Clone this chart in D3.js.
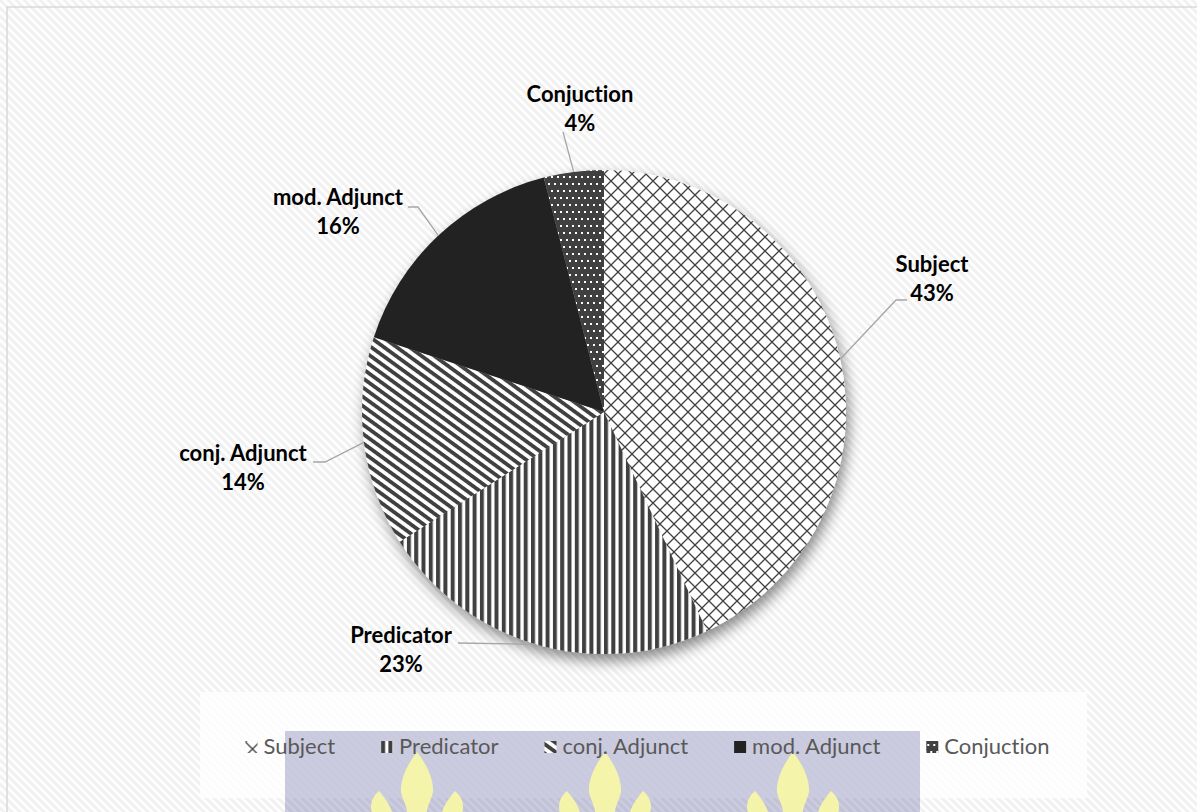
<!DOCTYPE html>
<html>
<head>
<meta charset="utf-8">
<script src="https://cdn.jsdelivr.net/npm/d3@7"></script>
<style>
  html, body { margin: 0; padding: 0; background: #fff; }
  svg { display: block; }
  text { font-variant-ligatures: none; font-feature-settings: "liga" 0; }
</style>
</head>
<body>
<svg id="chart" width="1197" height="812"></svg>
<script>
// ---------- data ----------
const categories = ["Subject", "Predicator", "conj. Adjunct", "mod. Adjunct", "Conjuction"];
const values = [43, 23, 14, 16, 4];
const patternIds = ["pSubject", "pPredicator", "pConjAdj", "pModAdj", "pConjuction"];

// ---------- layout (positions only) ----------
const W = 1197, H = 812;
const cx = 604, cy = 412, R = 242;
// label anchor (text centre x, first baseline y) and leader elbow points (from label toward pie)
const labelLayout = [
  { x: 932, y: 272, leader: [[907, 300], [896, 300]] },
  { x: 401, y: 643, leader: [[458, 643]] },
  { x: 243, y: 461, leader: [[313, 462], [325, 462]] },
  { x: 338, y: 205, leader: [[408, 207], [418, 207]] },
  { x: 580, y: 102, leader: [[563, 132]] }
];

const svg = d3.select("#chart");
const defs = svg.append("defs");

// background hatch
const bg = defs.append("pattern").attr("id", "bgHatch").attr("patternUnits", "userSpaceOnUse")
  .attr("width", 8).attr("height", 8);
bg.append("rect").attr("width", 8).attr("height", 8).attr("fill", "#ffffff");
bg.append("path").attr("d", "M0,0 L8,8 M-4,4 L4,12 M4,-4 L12,4")
  .attr("stroke", "#f1f1f1").attr("stroke-width", 3);

// Subject: diagonal cross grid
const p1 = defs.append("pattern").attr("id", "pSubject").attr("patternUnits", "userSpaceOnUse")
  .attr("width", 14).attr("height", 14);
p1.append("rect").attr("width", 14).attr("height", 14).attr("fill", "#fff");
p1.append("path").attr("d", "M0,0 L14,14 M14,0 L0,14")
  .attr("stroke", "#404040").attr("stroke-width", 1.3).attr("fill", "none");

// Predicator: vertical stripes
const p2 = defs.append("pattern").attr("id", "pPredicator").attr("patternUnits", "userSpaceOnUse")
  .attr("width", 7.3).attr("height", 7);
p2.append("rect").attr("width", 7.3).attr("height", 7).attr("fill", "#fff");
p2.append("rect").attr("width", 4).attr("height", 7).attr("fill", "#404040");

// conj. Adjunct: downward diagonal stripes
const p3 = defs.append("pattern").attr("id", "pConjAdj").attr("patternUnits", "userSpaceOnUse")
  .attr("width", 8).attr("height", 7.5).attr("patternTransform", "rotate(36)");
p3.append("rect").attr("width", 8).attr("height", 7.5).attr("fill", "#fff");
p3.append("rect").attr("width", 8).attr("height", 3.8).attr("fill", "#404040");

// mod. Adjunct: solid
const p4 = defs.append("pattern").attr("id", "pModAdj").attr("patternUnits", "userSpaceOnUse")
  .attr("width", 4).attr("height", 4);
p4.append("rect").attr("width", 4).attr("height", 4).attr("fill", "#222222");

// Conjuction: dark with white dots
const p5 = defs.append("pattern").attr("id", "pConjuction").attr("patternUnits", "userSpaceOnUse")
  .attr("width", 6).attr("height", 14);
p5.append("rect").attr("width", 6).attr("height", 14).attr("fill", "#404040");
p5.append("rect").attr("x", 1).attr("y", 2).attr("width", 2).attr("height", 2).attr("fill", "#fff");
p5.append("rect").attr("x", 4).attr("y", 9).attr("width", 2).attr("height", 2).attr("fill", "#fff");

// shadow
const f = defs.append("filter").attr("id", "shadow")
  .attr("x", "-20%").attr("y", "-20%").attr("width", "140%").attr("height", "140%");
f.append("feDropShadow").attr("dx", 3).attr("dy", 7).attr("stdDeviation", 7)
  .attr("flood-color", "#000").attr("flood-opacity", 0.45);

// ---------- background ----------
svg.append("rect").attr("width", W).attr("height", H).attr("fill", "url(#bgHatch)");
svg.append("rect").attr("x", 7).attr("y", 7).attr("width", W + 20).attr("height", H + 20)
  .attr("fill", "none").attr("stroke", "#d9d9d9").attr("stroke-width", 1.5);

// ---------- pie ----------
const pie = d3.pie().sort(null).value(d => d.value);
const data = categories.map((c, i) => ({ name: c, value: values[i], pid: patternIds[i] }));
const arcs = pie(data);
const arc = d3.arc().innerRadius(0).outerRadius(R);
const edge = d3.arc().innerRadius(R).outerRadius(R);

const g = svg.append("g").attr("transform", `translate(${cx},${cy})`);
g.append("g").attr("filter", "url(#shadow)")
  .selectAll("path").data(arcs).join("path")
  .attr("d", arc)
  .attr("fill", d => `url(#${d.data.pid})`);

// leader lines + data labels
const total = d3.sum(values);
arcs.forEach((a, i) => {
  const lay = labelLayout[i];
  const p = edge.centroid(a);
  const pts = lay.leader.map(q => [q[0], q[1]]).concat([[p[0] + cx, p[1] + cy]]);
  svg.append("path")
    .attr("d", d3.line()(pts))
    .attr("fill", "none").attr("stroke", "#a6a6a6").attr("stroke-width", 1.3);
  const t = svg.append("text")
    .attr("x", lay.x).attr("y", lay.y)
    .attr("text-anchor", "middle")
    .attr("font-family", "Lato, 'Open Sans', sans-serif")
    .attr("font-weight", "bold").attr("font-size", 22).attr("fill", "#000");
  t.append("tspan").attr("x", lay.x).text(a.data.name);
  t.append("tspan").attr("x", lay.x).attr("dy", 29)
    .text(Math.round(a.data.value / total * 100) + "%");
});

// ---------- legend ----------
const lx0 = 200, lx1 = 1087, ly0 = 692, ly1 = 798;
svg.append("rect").attr("x", lx0).attr("y", ly0).attr("width", lx1 - lx0).attr("height", ly1 - ly0)
  .attr("fill", "#ffffff").attr("opacity", 0.75);

// watermark overlay
const wm = svg.append("g");
wm.append("rect").attr("x", 285).attr("y", 731).attr("width", 635).attr("height", 100)
  .attr("fill", "rgb(100,100,160)").attr("opacity", 0.33);
const flameCx = [417, 605, 793];
flameCx.forEach(fx => {
  wm.append("path")
    .attr("d", `M${fx},752 C${fx + 8},762 ${fx + 17},778 ${fx + 16},792 C${fx + 14},802 ${fx + 8},808 ${fx + 10},820 L${fx - 10},820 C${fx - 8},808 ${fx - 14},802 ${fx - 16},792 C${fx - 17},778 ${fx - 8},762 ${fx},752 Z`)
    .attr("fill", "#f6f6a6").attr("opacity", 0.95);
  [-1, 1].forEach(s => {
    const bx = fx + s * 38;
    wm.append("path")
      .attr("d", `M${bx},791 C${bx + s * 8},798 ${bx + s * 10},806 ${bx + s * 6},816 L${bx - s * 14},816 C${bx - s * 12},806 ${bx - s * 6},798 ${bx},791 Z`)
      .attr("fill", "#f6f6a6").attr("opacity", 0.95);
  });
});

const legend = svg.append("g");
const legendFont = { family: "Lato, 'Open Sans', sans-serif", size: 22 };
const items = legend.selectAll("g.item").data(data).join("g").attr("class", "item");
items.append("rect").attr("width", 12).attr("height", 12).attr("y", 741)
  .attr("fill", d => `url(#${d.pid})`);
items.append("text").attr("x", 18).attr("y", 754)
  .attr("font-family", legendFont.family).attr("font-size", legendFont.size)
  .attr("fill", "#595959").text(d => d.name);
// sequential layout, centred within the legend box
let widths = [];
items.select("text").each(function () { widths.push(this.getComputedTextLength()); });
const gap = 46;
const totalW = d3.sum(widths, w => w + 18) + gap * (widths.length - 1);
let xPos = (lx0 + lx1) / 2 - totalW / 2 + 4;
items.each(function (d, i) {
  d3.select(this).attr("transform", `translate(${xPos},0)`);
  d3.select(this).select("rect").attr("x", 0);
  xPos += widths[i] + 18 + gap;
});
</script>
</body>
</html>
